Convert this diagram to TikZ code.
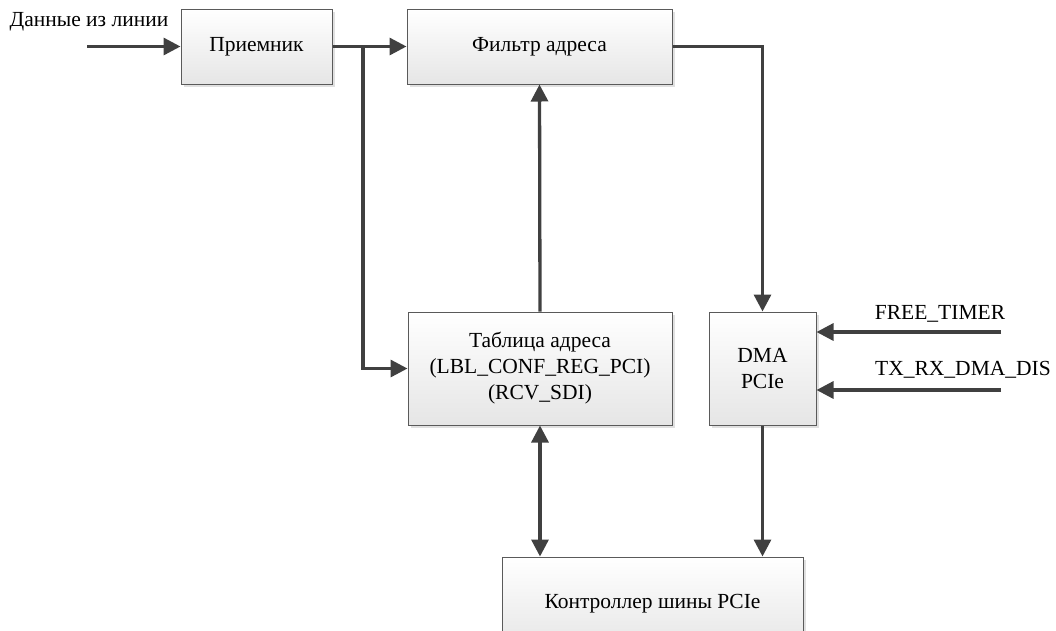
\documentclass[tikz,border=0pt]{standalone}
\usepackage{fontspec}
\setmainfont{Liberation Serif}
\usetikzlibrary{arrows.meta,shadows}
\definecolor{linec}{HTML}{404040}
\definecolor{boxc}{HTML}{5A5A5A}
\tikzset{
  blk/.style={draw=boxc, line width=1pt, rectangle, top color=white, bottom color=black!10,
    drop shadow={shadow xshift=3pt, shadow yshift=-3pt, fill=black!12, opacity=1},
    align=center, font=\fontsize{21.5}{26}\selectfont, inner sep=0pt},
  conn/.style={draw=linec, line width=3.3pt, -{Triangle[length=17pt,width=17pt]}},
  biconn/.style={draw=linec, line width=3.3pt, {Triangle[length=17pt,width=17pt]}-{Triangle[length=17pt,width=17pt]}},
  lbl/.style={font=\fontsize{21.5}{26}\selectfont, inner sep=0pt}
}
\begin{document}
\begin{tikzpicture}[x=1pt,y=-1pt]
\useasboundingbox (0,0) rectangle (1056,630);
\node[blk, minimum width=151pt, minimum height=75pt] (rec) at (256.5,46.5) {Приемник};
\node[blk, minimum width=265pt, minimum height=75pt] (filt) at (539.5,46.5) {Фильтр адреса};
\node[blk, minimum width=264pt, minimum height=113pt] (tab) at (540,368.5) {Таблица адреса\\(LBL\_CONF\_REG\_PCI)\\(RCV\_SDI)};
\node[blk, minimum width=107pt, minimum height=113pt] (dma) at (762.5,368.5) {DMA\\PCIe};
\node[blk, minimum width=301pt, minimum height=93pt] (ctrl) at (652.5,603.5) {Контроллер шины PCIe};

\coordinate (in) at (87,46.5);
\coordinate (br) at (363,46.5);
\coordinate (ft) at (1001,332);
\coordinate (tx) at (1001,390);

\node[lbl] (inl) at (89,22) {Данные из линии};
\node[lbl] (ftl) at (940,314) {FREE\_TIMER};
\node[lbl] (txl) at (963,370) {TX\_RX\_DMA\_DIS};

\draw[conn] (in) -- (rec.west);
\draw[conn] (rec.east) -- (filt.west);
\draw[conn] (br) |- (tab.west);
\draw[conn] (tab.north) -- (filt.south);
\draw[conn] (filt.east) -| (dma.north);
\draw[conn] (ft) -- (dma.east |- ft);
\draw[conn] (tx) -- (dma.east |- tx);
\draw[biconn] (tab.south) -- (ctrl.north -| tab.south);
\draw[conn] (dma.south) -- (ctrl.north -| dma.south);
\end{tikzpicture}
\end{document}
